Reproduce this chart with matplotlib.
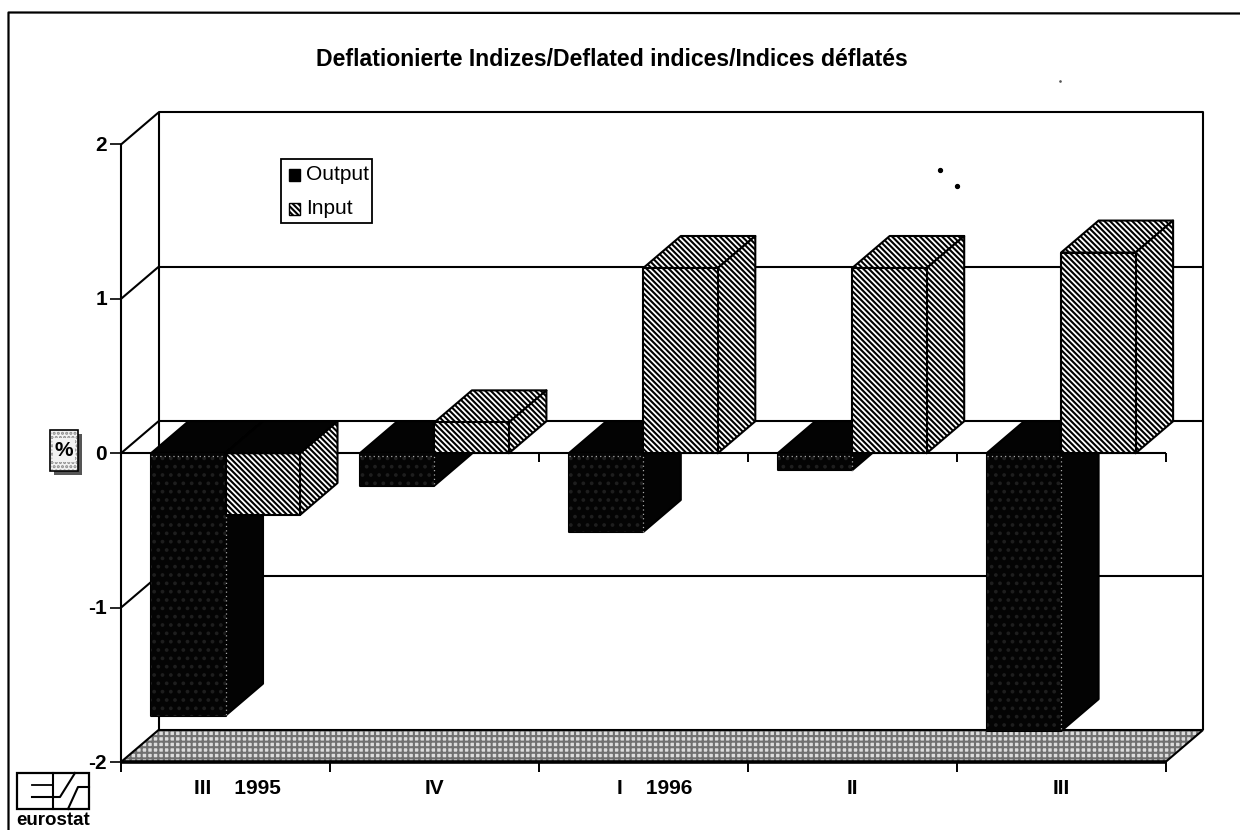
import numpy as np
import matplotlib
matplotlib.use("Agg")
import matplotlib.pyplot as plt
from matplotlib.patches import Polygon, Rectangle

plt.rcParams['font.family'] = ['Liberation Sans', 'DejaVu Sans']
plt.rcParams['hatch.linewidth'] = 1.5

categories = ["    III    1995", "IV", "    I    1996", "II", "III"]
output_vals = [-1.70, -0.21, -0.51, -0.11, -1.80]
input_vals = [-0.40, 0.20, 1.20, 1.20, 1.30]
y_ticks = [-2, -1, 0, 1, 2]
title = "Deflationierte Indizes/Deflated indices/Indices déflatés"

W, H = 1240, 830
fig = plt.figure(figsize=(W/100, H/100), dpi=100)
L, R, T, B = 121, 1165.5, 144.5, 762
ax = fig.add_axes([L/W, 1-B/H, (R-L)/W, (B-T)/H])
ax.set_xlim(0, 5)
ax.set_ylim(-2, 2)
ax.axis('off')

DX = 37.5/((R-L)/5)
DY = 32/((B-T)/4)
GAP = 30/((R-L)/5)
BW = 74.5/((R-L)/5)
LW = 1.5
z = [3]

def P(pts, **kw):
    kw.setdefault('edgecolor', 'black')
    kw.setdefault('linewidth', LW)
    z[0] += 0.01
    p = Polygon(pts, closed=True, clip_on=False, joinstyle='round', zorder=z[0], **kw)
    ax.add_patch(p)

def line(xs, ys, lw=LW, zorder=2):
    ax.plot(xs, ys, color='black', lw=lw, clip_on=False, solid_capstyle='butt', zorder=zorder)

# floor
ax.add_patch(Polygon([(0, -2), (DX, -2+DY), (5+DX, -2+DY), (5, -2)], closed=True, clip_on=False,
                     facecolor='#dcdcdc', edgecolor='#707070', linewidth=0, hatch='+++', zorder=1))
ax.add_patch(Polygon([(0, -2), (DX, -2+DY), (5+DX, -2+DY), (5, -2)], closed=True, clip_on=False,
                     facecolor='none', edgecolor='black', linewidth=LW, zorder=1.1))
line([0, 5], [-2, -2], lw=2.6)

# walls
line([DX, DX, 5+DX, 5+DX], [-2+DY, 2+DY, 2+DY, -2+DY])
line([0, 0], [-2, 2])
line([0, DX], [2, 2+DY])
for v in y_ticks[1:-1]:
    line([0, DX], [v, v+DY])
    line([DX, 5+DX], [v+DY, v+DY])
line([0, 5], [0, 0])

# ticks
tick_len = 10/((B-T)/4)
for i in range(6):
    line([i, i], [-2, -2-tick_len], lw=1.4)
    if i:
        line([i, i], [0, -tick_len*0.9], lw=1.4)
for v in y_ticks:
    line([-11/((R-L)/5), 0], [v, v], lw=1.2)

dark = dict(facecolor='#030303', edgecolor='black')
dark_front = dict(facecolor='#040404', edgecolor='#1e1e1e', hatch='..', linewidth=0)
hat = dict(facecolor='white', edgecolor='black', hatch='\\\\\\\\\\\\')

def box(x0, v, kw_f, kw_t, kw_s):
    x1 = x0+BW
    lo, hi = min(v, 0), max(v, 0)
    P([(x0+DX, hi+DY), (x1+DX, hi+DY), (x1, hi), (x0, hi)], **kw_t)
    P([(x1, lo), (x1+DX, lo+DY), (x1+DX, hi+DY), (x1, hi)], **kw_s)
    P([(x0, lo), (x1, lo), (x1, hi), (x0, hi)], **kw_f)

for i in range(5):
    x0 = i+GAP
    x1 = x0+BW
    box(x0, output_vals[i], dark, dark, dark)
    P([(x0, output_vals[i]), (x1, output_vals[i]), (x1, 0), (x0, 0)], **dark_front)
    # light dotted seam along the front face of the dark bar
    z[0] += 0.01
    ax.plot([x0, x1, x1], [-0.02, -0.02, output_vals[i]], color='#a8a8a8', lw=0.9, ls=(0, (1, 2.5)),
            clip_on=False, zorder=z[0])
    box(x1, input_vals[i], hat, hat, hat)
    if input_vals[i] < 0:  # the zero plane stays dark above a negative input bar
        P([(x1+DX, DY), (x1+BW+DX, DY), (x1+BW, 0), (x1, 0)], **dark)

# tick labels
for v in y_ticks:
    ax.annotate(str(v), (0, v), xytext=(-14, -1), textcoords='offset pixels', ha='right', va='center',
                fontsize=15, fontweight='bold', annotation_clip=False)
for i, c in enumerate(categories):
    ax.annotate(c, (i+0.5, -2), xytext=(0, -26), textcoords='offset pixels', ha='center', va='center',
                fontsize=15, fontweight='bold', annotation_clip=False)

# page-level items, drawn in pixel space
ov = fig.add_axes([0, 0, 1, 1], zorder=5)
ov.set_xlim(0, W)
ov.set_ylim(H, 0)
ov.axis('off')
ov.patch.set_alpha(0)
ov.plot([8.5, 8.5, 1240], [830, 12.5, 13.5], color='black', lw=1.6)
ov.text(612, 59, title, ha='center', va='center', fontsize=16.6, fontweight='bold')

# legend
ov.add_patch(Rectangle((281, 159), 91, 64, facecolor='white', edgecolor='black', lw=1.3))
ov.add_patch(Rectangle((289, 169), 11, 12, facecolor='black', edgecolor='black', lw=1))
ov.add_patch(Rectangle((289, 203), 11, 12, facecolor='white', edgecolor='black', lw=1, hatch='\\\\\\\\\\\\'))
ov.text(306, 175, "Output", ha='left', va='center', fontsize=15)
ov.text(306, 208, "Input", ha='left', va='center', fontsize=15)

# % box
ov.add_patch(Rectangle((54, 434), 28, 41, facecolor='#555555', edgecolor='none'))
ov.add_patch(Rectangle((50, 430), 28, 41, facecolor='#f2f2f2', edgecolor='black', lw=1.2))
ov.add_patch(Rectangle((51, 431), 26, 39, facecolor='#f2f2f2', edgecolor='#8a8a8a', lw=0, hatch='....'))
ov.text(64, 450, "%", ha='center', va='center', fontsize=15, fontweight='bold',
        bbox=dict(facecolor='#f2f2f2', edgecolor='none', pad=1.5))

# eurostat logo
ov.add_patch(Rectangle((17, 773), 72, 36, facecolor='white', edgecolor='black', lw=1.6))
ov.plot([32, 53], [785, 785], color='black', lw=1.3)
ov.plot([32, 60, 75], [797, 797, 773], color='black', lw=1.5)
ov.plot([53, 53], [773, 809], color='black', lw=1.5)
ov.plot([68, 78, 89], [809, 787, 787], color='black', lw=1.5)
ov.text(53, 820, "eurostat", ha='center', va='center', fontsize=13.5, fontweight='bold')

# specks
ov.plot([940, 957], [170, 186], ls='none', marker='o', ms=2.8, color='black')
ov.plot([1060], [81], ls='none', marker='o', ms=0.9, color='#555555')

fig.savefig('out.png', dpi=100)
